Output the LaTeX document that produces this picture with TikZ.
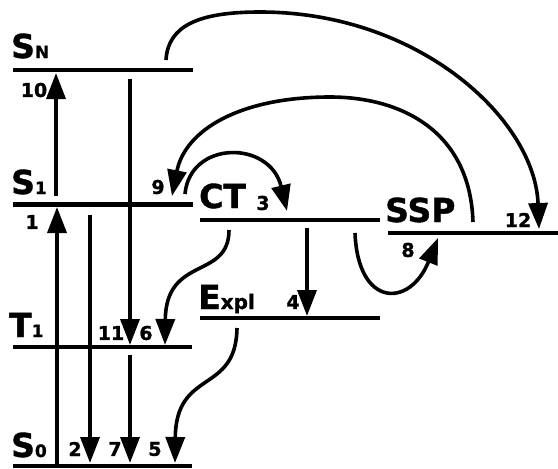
\documentclass[tikz,border=0pt]{standalone}
\usepackage{fontspec}
\setmainfont{DejaVu Sans}[BoldFeatures={FakeBold=1.2}]
\usetikzlibrary{arrows.meta}
\newcommand\lvsub[1]{{\fontsize{17}{17}\selectfont #1}}
\begin{document}
\begin{tikzpicture}[x=1pt,y=-1pt,
  level/.style={line width=4.5pt},
  arr/.style={line width=3.6pt,-{Triangle[length=26pt,width=19pt]}},
  big/.style={font=\bfseries\fontsize{33}{33}\selectfont, inner sep=0pt, anchor=base west},
  num/.style={font=\bfseries\fontsize{19}{19}\selectfont, inner sep=0pt}]
\useasboundingbox (0,0) rectangle (558,469);
% level lines
\coordinate (SNa) at (13,70);   \coordinate (SNb) at (193,70);
\coordinate (S1a) at (13,204.5);\coordinate (S1b) at (193,204.5);
\coordinate (T1a) at (13,347);  \coordinate (T1b) at (192,347);
\coordinate (S0a) at (13,466);  \coordinate (S0b) at (192,466);
\coordinate (CTa) at (200,220); \coordinate (CTb) at (380,220);
\coordinate (SSa) at (388,233); \coordinate (SSb) at (558,233);
\coordinate (EXa) at (200,318); \coordinate (EXb) at (380,318);
\foreach \a/\b in {SNa/SNb,S1a/S1b,T1a/T1b,S0a/S0b,CTa/CTb,SSa/SSb,EXa/EXb}
  \draw[level] (\a) -- (\b);
% level labels
\node[big] (lSN) at (11,58) {S\lvsub{N}};
\node[big] (lS1) at (11,194) {S\lvsub{1}};
\node[big] (lT1) at (9,337) {T\lvsub{1}};
\node[big] (lS0) at (11,457) {S\lvsub{0}};
\node[big] (lCT) at (199,208) {CT};
\node[big] (lSSP) at (385,222) {SSP};
\node[big] (lEX) at (198,309) {E{\fontsize{20}{20}\selectfont xpl}};
% numbers
\node[num] (n10) at (34,90) {10};
\node[num] (n1) at (32,222) {1};
\node[num] (n9) at (158,187) {9};
\node[num] (n3) at (263,203) {3};
\node[num] (n8) at (408,250) {8};
\node[num] (n12) at (518,220) {12};
\node[num] (n4) at (293,302) {4};
\node[num] (n11) at (111,333) {11};
\node[num] (n6) at (146,333) {6};
\node[num] (n2) at (75,449) {2};
\node[num] (n7) at (115,449) {7};
\node[num] (n5) at (155,449) {5};
% arrow end points
\coordinate (a10s) at (56,196);  \coordinate (a10e) at (56,73);
\coordinate (a1s) at (57,464);   \coordinate (a1e) at (57,207);
\coordinate (a11s) at (130,79);  \coordinate (a11e) at (130,345);
\coordinate (a2s) at (90,215);   \coordinate (a2e) at (90,463);
\coordinate (a7s) at (130,355);  \coordinate (a7e) at (130,463);
\coordinate (a4s) at (307,228);  \coordinate (a4e) at (307,316);
\coordinate (a6s) at (229,230);  \coordinate (a6e) at (165,345);
\coordinate (a5s) at (237,328);  \coordinate (a5e) at (175,463);
\coordinate (a8s) at (355,233);  \coordinate (a8e) at (438,238);
\coordinate (a3s) at (185,194);  \coordinate (a3e) at (287,211);
\coordinate (a9s) at (473,222);  \coordinate (a9m) at (330,97);  \coordinate (a9e) at (172,196);
\coordinate (a12s) at (166,60);  \coordinate (a12m) at (260,12); \coordinate (a12e) at (539,229);
% arrows
\draw[arr] (a10s) -- (a10e);
\draw[arr] (a1s) -- (a1e);
\draw[arr] (a11s) -- (a11e);
\draw[arr] (a2s) -- (a2e);
\draw[arr] (a7s) -- (a7e);
\draw[arr] (a4s) -- (a4e);
\draw[arr] (a6s) .. controls (229,280) and (166,255) .. (a6e);
\draw[arr] (a5s) .. controls (236,395) and (176,368) .. (a5e);
\draw[arr] (a8s) .. controls (358,308) and (410,308) .. (a8e);
\draw[arr] (a3s) .. controls (190,140) and (270,140) .. (a3e);
\draw[arr] (a9s) .. controls (470,130) and (400,97) .. (a9m) .. controls (240,97) and (185,130) .. (a9e);
\draw[arr] (a12s) .. controls (168,25) and (200,12) .. (a12m) .. controls (420,12) and (535,120) .. (a12e);
\end{tikzpicture}
\end{document}
